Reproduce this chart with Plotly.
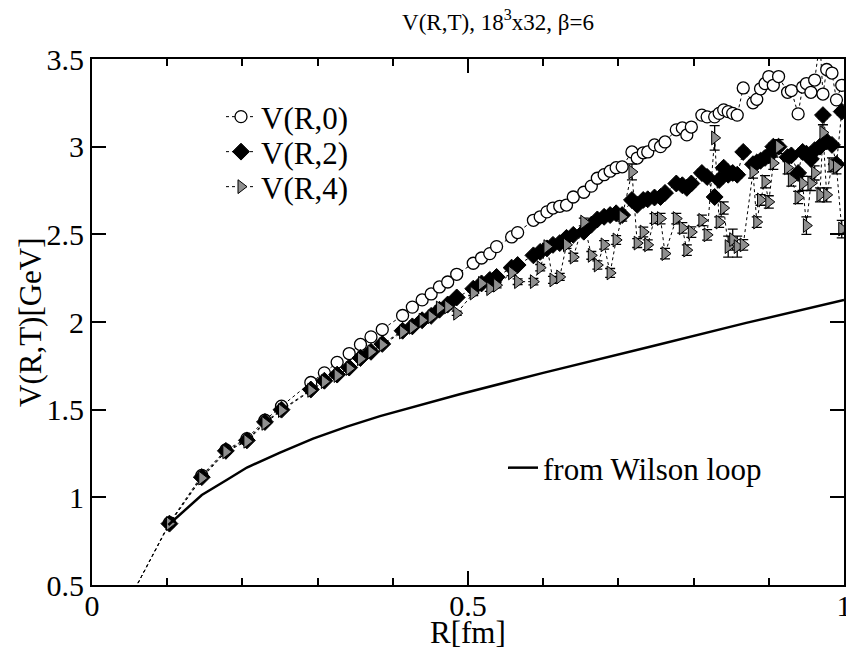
import plotly.graph_objects as go

# ---- data ----
R = [0.050, 0.103, 0.146, 0.178, 0.206, 0.230, 0.252, 0.291, 0.309, 0.326,
     0.342, 0.357, 0.371, 0.386, 0.413, 0.426, 0.439, 0.451, 0.462, 0.473,
     0.485, 0.507, 0.518, 0.529, 0.538, 0.558, 0.566, 0.587, 0.596, 0.605,
     0.613, 0.622, 0.631, 0.640, 0.654, 0.664, 0.672, 0.681, 0.689, 0.697,
     0.705, 0.718, 0.725, 0.733, 0.739, 0.748, 0.756, 0.762, 0.777, 0.785,
     0.791, 0.797, 0.811, 0.818, 0.828, 0.834, 0.840, 0.846, 0.852, 0.858,
     0.866, 0.879, 0.884, 0.889, 0.895, 0.900, 0.906, 0.913, 0.925, 0.930,
     0.939, 0.945, 0.950, 0.956, 0.961, 0.968, 0.972, 0.977, 0.984, 0.990,
     0.997]

V0 = [0.42, 0.855, 1.125, 1.270, 1.335, 1.440, 1.520, 1.655, 1.710, 1.770,
      1.820, 1.872, 1.915, 1.957, 2.037, 2.085, 2.126, 2.160, 2.200, 2.228,
      2.272, 2.335, 2.365, 2.390, 2.430, 2.485, 2.510, 2.580, 2.600, 2.628,
      2.650, 2.660, 2.667, 2.713, 2.740, 2.775, 2.820, 2.840, 2.860, 2.880,
      2.885, 2.970, 2.935, 2.965, 2.970, 3.010, 3.000, 3.027, 3.096, 3.107,
      3.067, 3.112, 3.180, 3.170, 3.170, 3.190, 3.210, 3.200, 3.190, 3.180,
      3.335, 3.250, 3.270, 3.330, 3.360, 3.400, 3.350, 3.400, 3.310, 3.320,
      3.187, 3.340, 3.360, 3.310, 3.380, 3.600, 3.300, 3.440, 3.420, 3.267,
      3.350]

V2 = [0.42, 0.850, 1.115, 1.265, 1.325, 1.430, 1.500, 1.615, 1.665, 1.700,
      1.740, 1.795, 1.830, 1.875, 1.950, 1.975, 2.010, 2.035, 2.070, 2.100,
      2.140, 2.190, 2.220, 2.240, 2.257, 2.310, 2.325, 2.380, 2.400, 2.420,
      2.440, 2.450, 2.480, 2.497, 2.515, 2.555, 2.585, 2.600, 2.610, 2.620,
      2.610, 2.696, 2.668, 2.696, 2.700, 2.710, 2.713, 2.736, 2.790, 2.780,
      2.765, 2.790, 2.850, 2.827, 2.713, 2.810, 2.880, 2.840, 2.850, 2.840,
      2.970, 2.900, 2.910, 2.920, 2.936, 2.950, 3.000, 3.000, 2.940, 2.950,
      2.850, 2.970, 2.960, 2.930, 2.980, 3.000, 3.180, 3.030, 3.010, 2.900,
      3.200]

V4 = [0.42, 0.850, 1.110, 1.260, 1.320, 1.422, 1.495, 1.610, 1.660, 1.695,
      1.735, 1.790, 1.830, 1.870, 1.943, 1.970, 2.010, 2.030, 2.080, 2.086,
      2.050, 2.165, 2.220, 2.190, 2.210, 2.280, 2.230, 2.230, 2.310, 2.430,
      2.240, 2.257, 2.440, 2.370, 2.570, 2.380, 2.325, 2.440, 2.280, 2.468,
      2.600, 2.856, 2.450, 2.513, 2.440, 2.590, 2.590, 2.390, 2.590, 2.537,
      2.410, 2.513, 2.580, 2.497, 3.050, 2.570, 2.650, 2.430, 2.470, 2.430,
      2.440, 2.856, 2.570, 2.696, 2.800, 2.685, 2.906, 3.000, 2.880, 2.810,
      2.710, 2.790, 2.550, 2.790, 2.850, 2.725, 3.080, 2.725, 2.896, 2.885,
      2.530]

E0 = [0.0] + [0.005] * 13 + [0.008] * 16 + [0.010] * 20 + [0.015] * 31
E2 = [0.0] + [0.005] * 13 + [0.008] * 16 + [0.012] * 20 + [0.020] * 31
E4 = [0.0, 0.005, 0.005, 0.005, 0.005, 0.005, 0.006, 0.006, 0.007, 0.007,
      0.008, 0.008, 0.009, 0.009, 0.010, 0.010, 0.011, 0.011, 0.012, 0.012,
      0.012, 0.014, 0.014, 0.015, 0.015, 0.016, 0.016, 0.018, 0.018, 0.018,
      0.020, 0.020, 0.020, 0.022, 0.022, 0.022, 0.024, 0.024, 0.025, 0.025,
      0.025, 0.045, 0.025, 0.028, 0.028, 0.028, 0.030, 0.030, 0.030, 0.030,
      0.030, 0.030, 0.030, 0.030, 0.070, 0.030, 0.035, 0.060, 0.060, 0.060,
      0.030, 0.035, 0.030, 0.030, 0.035, 0.035, 0.035, 0.040, 0.035, 0.035,
      0.035, 0.040, 0.050, 0.040, 0.040, 0.040, 0.045, 0.040, 0.040, 0.040,
      0.050]

R_wilson = [0.1015, 0.146, 0.179, 0.206, 0.250, 0.294, 0.339, 0.383, 0.489,
            0.600, 0.742, 0.870, 1.000]
V_wilson = [0.842, 1.013, 1.099, 1.170, 1.255, 1.335, 1.403, 1.463, 1.588,
            1.710, 1.859, 1.995, 2.126]

FONT = "Liberation Serif, Times New Roman, serif"

fig = go.Figure()

err_style = dict(type="data", visible=True, color="black", thickness=1.3, width=5)

fig.add_trace(go.Scatter(
    x=R, y=V0, name="V(R,0)", mode="lines+markers", showlegend=True,
    line=dict(color="black", width=1, dash="dot"),
    marker=dict(symbol="circle", size=12, color="white",
                line=dict(color="black", width=1.3)),
    error_y=dict(array=E0, **err_style), legend="legend"))

fig.add_trace(go.Scatter(
    x=R, y=V2, name="V(R,2)", mode="lines+markers", showlegend=True,
    line=dict(color="black", width=1, dash="dot"),
    marker=dict(symbol="diamond", size=13, color="black",
                line=dict(color="black", width=1)),
    error_y=dict(array=E2, **err_style), legend="legend3"))

fig.add_trace(go.Scatter(
    x=R, y=V4, name="V(R,4)", mode="lines+markers", showlegend=True,
    line=dict(color="black", width=1, dash="dot"),
    marker=dict(symbol="triangle-right", size=12, color="#8f8f8f",
                line=dict(color="black", width=1)),
    error_y=dict(array=E4, **err_style), legend="legend4"))

fig.add_trace(go.Scatter(
    x=R_wilson, y=V_wilson, name="from Wilson loop", mode="lines", showlegend=True,
    line=dict(color="black", width=2.5), legend="legend2"))

axis_common = dict(
    showline=True, linewidth=2, linecolor="black", mirror="ticks",
    ticks="inside", ticklen=14, tickwidth=1.5, tickcolor="black",
    showgrid=False, zeroline=False, automargin=False,
    tickfont=dict(family=FONT, size=30, color="black"),
)

PLOT_L, PLOT_T, PLOT_B = 92, 59, 585
H = PLOT_B - PLOT_T


def py(px):
    return (PLOT_B - px) / H


def leg(xpx, ypx, size):
    return dict(x=(xpx - PLOT_L) / 752, y=py(ypx), xanchor="left", yanchor="middle",
                bgcolor="rgba(0,0,0,0)", borderwidth=0,
                font=dict(family=FONT, size=size, color="black"))


fig.update_layout(
    template="none",
    showlegend=True,
    width=846, height=649,
    margin=dict(l=92, r=2, t=59, b=64, autoexpand=False),
    paper_bgcolor="white", plot_bgcolor="white",
    font=dict(family=FONT, size=30, color="black"),
    title=dict(text="V(R,T), 18<sup>3</sup>x32, β=6",
               xref="paper", x=(498 - 92) / 752, xanchor="center",
               yref="container", y=1 - 22 / 649, yanchor="middle",
               automargin=False,
               font=dict(family=FONT, size=23, color="black")),
    xaxis=dict(range=[0, 1], tick0=0, dtick=0.5, ticklabelstandoff=-7,
               ticklabeloverflow="allow",
               minor=dict(tick0=0, dtick=0.1, ticks="inside", ticklen=7,
                          tickwidth=1.5, tickcolor="black", showgrid=False),
               **axis_common),
    yaxis=dict(range=[0.5, 3.5], tick0=0.5, dtick=0.5,
               ticklabeloverflow="allow",
               **axis_common),
    annotations=[
        dict(text="R[fm]", xref="paper", yref="paper", x=0.5, y=py(632),
             xanchor="center", yanchor="middle", showarrow=False,
             font=dict(family=FONT, size=31, color="black")),
        dict(text="V(R,T)[GeV]", xref="paper", yref="paper", x=(30 - 92) / 752, y=0.5,
             xanchor="center", yanchor="middle", textangle=-90, showarrow=False,
             font=dict(family=FONT, size=31, color="black")),
    ],
    legend=leg(221, 117, 31),
    legend3=leg(221, 152, 31),
    legend4=leg(221, 187, 31),
    legend2=leg(503, 468, 31),
)

fig.write_html("out.html", config={"displayModeBar": False},
               post_script="document.body.style.margin='0';")
